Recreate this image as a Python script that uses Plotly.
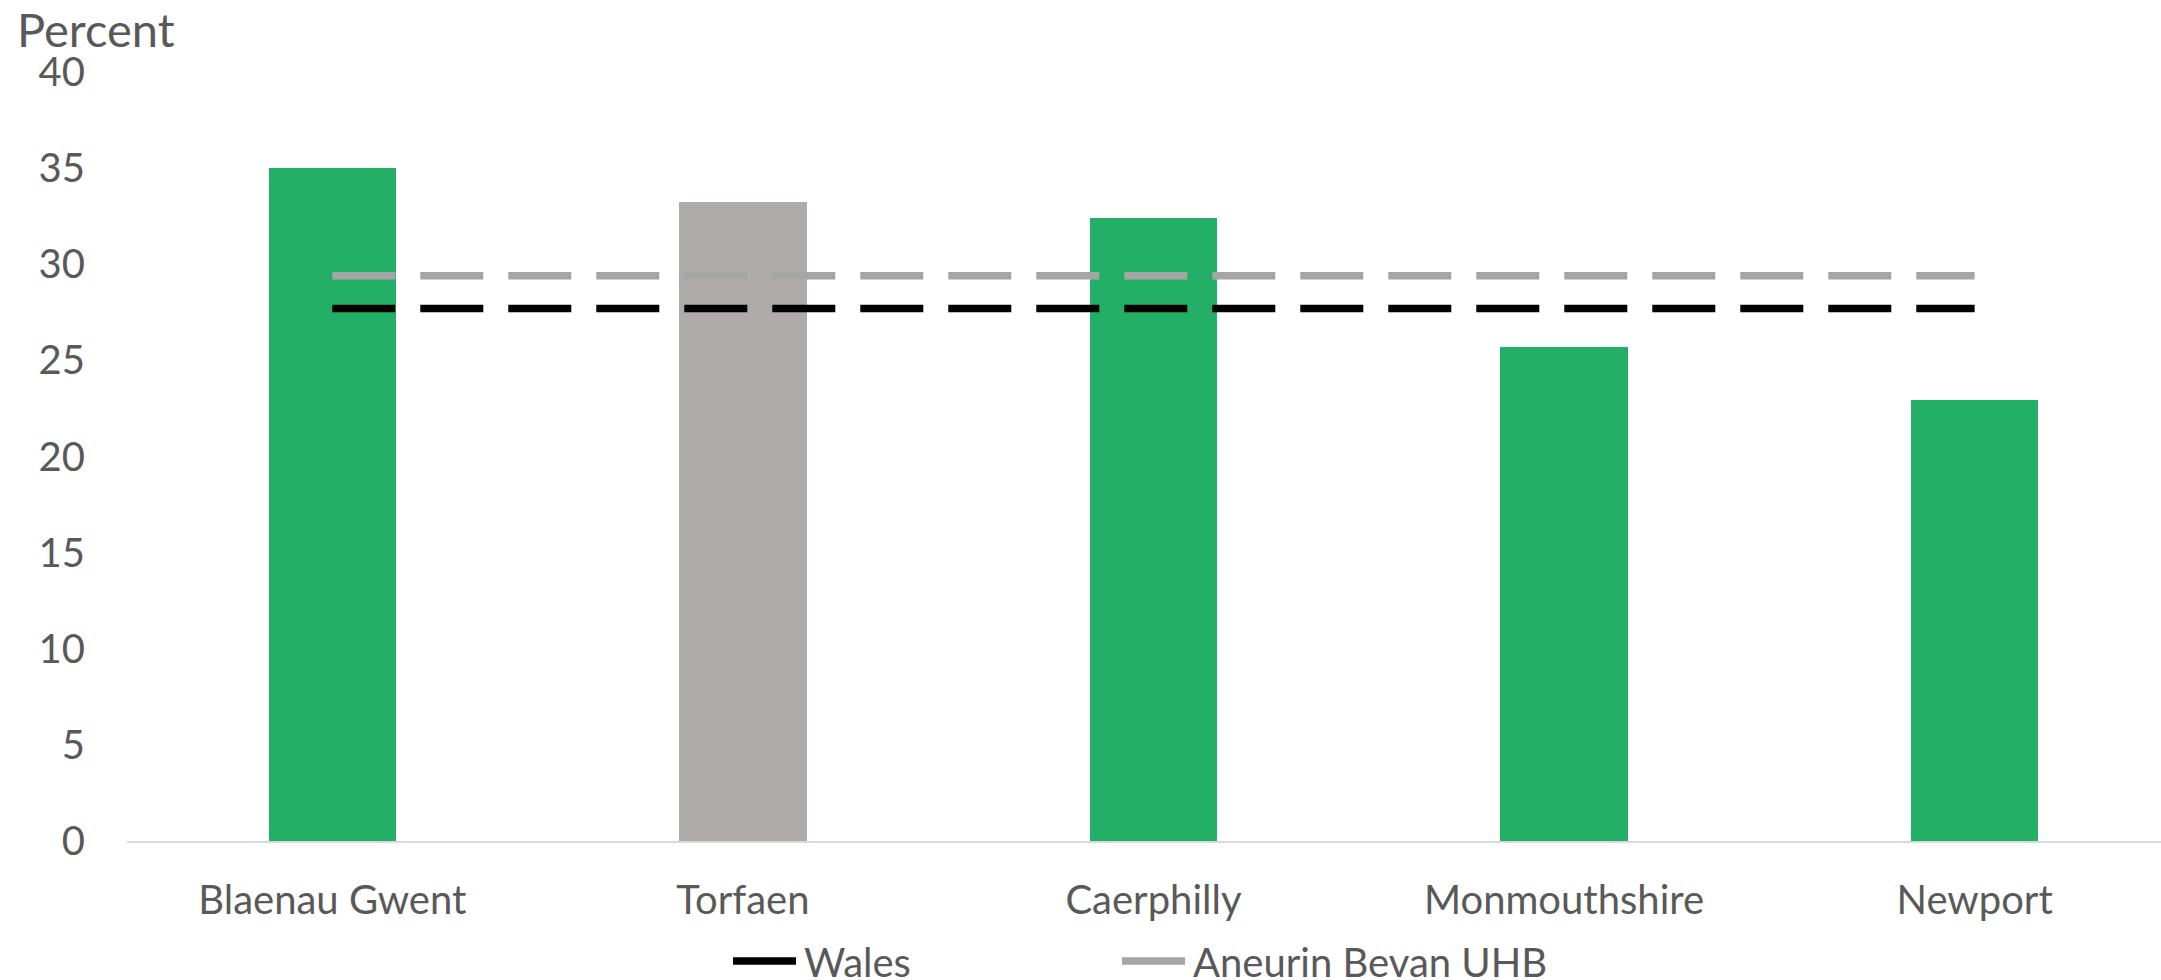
import plotly.graph_objects as go

categories = ["Blaenau Gwent", "Torfaen", "Caerphilly", "Monmouthshire", "Newport"]
percent_values = [35.0, 33.25, 32.4, 25.7, 22.95]
wales_values = [27.7, 27.7, 27.7, 27.7, 27.7]
aneurin_values = [29.4, 29.4, 29.4, 29.4, 29.4]
y_ticks = [0, 5, 10, 15, 20, 25, 30, 35, 40]

bar_colors = ["#23B066", "#AEAAAA", "#23B066", "#23B066", "#23B066"]
FONT = "Lato"
TXT = "#595959"
W, H = 2161, 980
ML, MR, MT, MB = 127, 0, 72, 139
PW, PH = W - ML - MR, H - MT - MB

fig = go.Figure()
fig.add_trace(go.Bar(
    x=categories, y=percent_values, width=0.31,
    marker=dict(color=bar_colors, line=dict(width=0)),
    showlegend=False, hoverinfo="x+y",
))
fig.add_trace(go.Scatter(
    x=categories, y=wales_values, mode="lines", name="Wales",
    line=dict(color="#000000", width=7.5, dash="63px,25px"),
    legend="legend",
))
fig.add_trace(go.Scatter(
    x=categories, y=aneurin_values, mode="lines", name="Aneurin Bevan UHB",
    line=dict(color="#A5A5A5", width=7.5, dash="63px,25px"),
    legend="legend2",
))

legend_common = dict(
    orientation="h", xref="paper", yref="paper",
    xanchor="left", y=-(961 - (H - MB)) / PH, yanchor="middle",
    font=dict(family=FONT, size=40, color=TXT),
    itemwidth=66, bgcolor="rgba(0,0,0,0)",
)

fig.update_layout(
    width=W, height=H,
    margin=dict(l=ML, r=MR, t=MT, b=MB, autoexpand=False),
    paper_bgcolor="white", plot_bgcolor="white",
    font=dict(family=FONT, size=40, color=TXT),
    bargap=0,
    legend=dict(x=(728 - ML) / PW, **legend_common),
    legend2=dict(x=(1117 - ML) / PW, **legend_common),
    xaxis=dict(
        range=[-0.5, 4.454], showgrid=False, showline=True, automargin=False,
        linecolor="#D9D9D9", linewidth=2, ticks="",
        tickfont=dict(family=FONT, size=40, color=TXT),
        ticklabelstandoff=23, fixedrange=True,
    ),
    yaxis=dict(
        range=[0, 40], tickvals=y_ticks, showgrid=False, zeroline=False,
        showline=False, ticks="", automargin=False,
        tickfont=dict(family=FONT, size=40, color=TXT),
        ticklabelstandoff=41,
    ),
    annotations=[dict(
        text="Percent", xref="paper", yref="paper",
        x=(15 - ML) / PW, xanchor="left",
        y=1 + (MT - 29) / PH, yanchor="middle",
        showarrow=False, font=dict(family=FONT, size=47, color=TXT),
    )],
)

fig.write_html(
    "out.html",
    config={"displayModeBar": False},
    post_script="document.body.style.margin='0';document.body.style.overflow='hidden';",
)
